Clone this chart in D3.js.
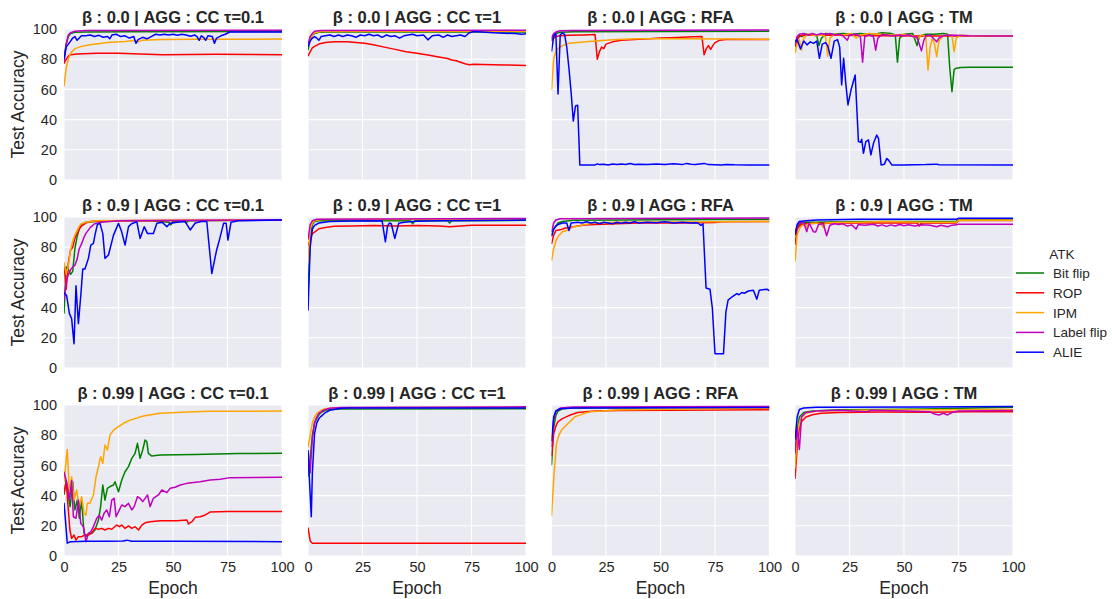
<!DOCTYPE html>
<html lang="en">
<head>
  <meta charset="UTF-8">
  <title>Test accuracy grid</title>
  <script src="https://cdn.jsdelivr.net/npm/d3@7"></script>
  <style>
    body { margin: 0; background: #fff; }
    text { font-family: "Liberation Sans", Arial, sans-serif; fill: #262626; }
  </style>
</head>
<body>
  <div id="chart"></div>

  <script>
    // series order inside each panel: Bit flip, ROP, IPM, Label flip, ALIE
    const attacks = ["Bit flip", "ROP", "IPM", "Label flip", "ALIE"];
    const colors = ["green", "red", "orange", "#bf00bf", "blue"];
    const betas = ["0.0", "0.9", "0.99"];
    const aggs = ["CC τ=0.1", "CC τ=1", "RFA", "TM"];
    const xTicks = [0, 25, 50, 75, 100];
    const yTicks = [0, 20, 40, 60, 80, 100];

    // β = 0.0
    const b00_cc01 = [
      [[0,80],[1,90],[2,95],[3,97],[5,97.8],[10,98],[30,98.2],[100,98.3]],
      [[0,77],[1,80],[2,82],[3,83],[6,83.5],[15,84],[25,84],[35,83.5],[45,83],[70,83.2],[100,83]],
      [[0,62],[1,74],[2,80],[3,84],[5,87],[8,88.5],[12,89.5],[20,91],[28,91.8],[32,92.4],[34,91.5],[36,92.6],[45,93],[60,93.2],[100,93.3]],
      [[0,78],[1,90],[2,96],[3,97.5],[5,98.5],[10,99],[100,99.2]],
      [[0,80],[1,88],[2,90],[3,92],[4,94],[5,95],[6,92.5],[7,94],[8,95.5],[10,95.5],[12,96],[14,95],[16,95.8],[18,94.5],[20,95],[21,93.5],[22,96],[24,96.5],[26,95],[28,95.5],[30,94],[32,95],[33,90.5],[34,93],[36,94.5],[38,93.5],[40,95],[42,96.5],[44,96],[46,96.5],[48,96],[50,96.5],[52,95.8],[54,96.5],[56,96],[58,95.2],[60,96],[61,95],[62,92.5],[63,95.5],[64,94.5],[65,92.5],[66,95.5],[68,95],[69,90.5],[70,94],[72,95.5],[74,96.5],[76,98],[80,98],[100,98]]
    ];
    const b00_cc1 = [
      [[0,86],[1,93],[2,96],[3,97],[5,97.8],[10,98],[100,98]],
      [[0,82],[1,85],[2,87.5],[3,88.5],[5,90],[8,91],[12,91.5],[18,91.5],[22,91],[26,90.5],[30,89.5],[35,88],[40,86.5],[45,85],[50,84],[55,82.8],[60,81.5],[64,80.5],[66,79.5],[68,79],[70,78],[72,77],[74,76.3],[76,76.6],[80,76.5],[90,76.2],[100,75.8]],
      [[0,88],[1,93],[2,96],[3,97.5],[6,98.3],[100,98.5]],
      [[0,90],[1,95],[2,97],[3,98.5],[6,99],[100,99.2]],
      [[0,88],[1,92],[2,94],[3,95],[4,94],[5,92.5],[6,95],[8,95.5],[10,96],[12,95],[14,96],[16,95],[18,96],[20,95.5],[22,94.5],[24,96],[26,95.5],[28,96.5],[30,95.5],[32,96],[34,94.5],[36,96],[38,95],[40,95.5],[42,94],[44,95.5],[46,96],[48,96.5],[50,95.5],[53,96],[55,92.8],[57,95.5],[60,96],[62,94.5],[64,96],[66,95],[68,95.5],[70,96],[72,95],[74,97.5],[76,98.3],[80,98],[85,97.5],[90,97.2],[95,97],[98,96.5],[100,96.8]]
    ];
    const b00_rfa = [
      [[0,93],[1,96],[2,97],[4,97.8],[10,98.2],[100,98.5]],
      [[0,92],[1,94],[2,95],[4,95.5],[8,95.8],[15,96],[20,96.3],[21,80],[22,85],[23,88],[24,87],[25,90],[28,91.5],[32,92.5],[40,93.2],[45,93.5],[50,94],[55,94.2],[60,94.5],[65,94.8],[69,95],[70,83],[71,87],[72,89],[73,86.5],[74,89],[75,91],[77,92.5],[80,93],[100,93]],
      [[0,59.5],[1,80],[2,85],[3,87],[5,89],[8,90.5],[12,91],[16,91.5],[20,92],[30,93],[40,93.5],[60,93.6],[80,93.4],[100,93.2]],
      [[0,94],[1,97],[2,98],[4,98.8],[10,99],[100,99.3]],
      [[0,85],[1,95],[2,97],[3,57],[4,96],[5,97.5],[6,96.5],[7,88],[8,74],[9,58],[10,39],[11,49],[12,49.5],[13,10],[20,10],[21,10.7],[22,10.2],[24,10.4],[26,10],[28,10.6],[30,10.3],[32,10.6],[34,10.2],[36,10.9],[38,10.3],[40,10.5],[44,10.2],[48,10.6],[52,10.3],[56,10.7],[60,10.2],[62,11],[64,10.5],[66,10.3],[70,11],[72,10.2],[78,10],[80,10.3],[84,10.1],[90,10],[100,10]]
    ];
    const b00_tm = [
      [[0,90],[1,94],[2,96],[3,95],[5,96.5],[8,96],[10,95.5],[11,89],[12,93.5],[14,97],[18,96.5],[22,97],[26,96.5],[30,97],[34,96.5],[38,97],[40,97.5],[44,97],[46,96],[47,78],[48,94],[50,96.5],[54,97],[55,93],[56,89],[57,95],[60,96.5],[64,96.5],[68,97],[70,96.5],[71,74],[72,58.5],[73,73.3],[74,74],[76,74.5],[80,74.6],[100,74.6]],
      [[0,88],[1,93],[2,95],[3,95.8],[10,96],[20,95.8],[40,95.5],[60,95.3],[80,95.3],[100,95.2]],
      [[0,84],[1,90],[2,93],[3,86],[4,94],[6,96.5],[8,96],[10,95.5],[12,96],[14,95],[15,82],[16,94],[18,96.5],[22,96],[26,97],[28,94],[30,96],[34,97],[40,96.5],[46,96],[50,96.5],[54,95.5],[56,93.5],[58,96],[60,95],[61,72.8],[62,88],[63,94],[64,90],[65,81.7],[66,92],[68,95.5],[70,96],[72,95.5],[73,85],[74,94],[76,95.8],[80,95.5],[100,95.3]],
      [[0,90],[1,95],[2,96.5],[4,97],[6,96],[8,97],[10,96],[12,97],[14,96.5],[16,97],[18,96],[20,96.5],[22,95.5],[24,92.5],[25,96],[28,96.5],[30,95],[31,78],[32,95],[34,96],[36,95],[37,86],[38,94],[40,96.5],[42,96],[44,95.5],[48,96],[50,95.5],[52,96.2],[54,95],[56,94.5],[58,85.5],[59,92],[60,95.5],[62,96],[64,93],[65,91.5],[66,94],[68,95.5],[70,96],[74,95.8],[80,95.5],[100,95.3]],
      [[0,91.5],[1,93],[2.5,86.8],[4,92],[5.5,89.5],[7,91.5],[8.5,90.5],[10,92],[11.2,80.6],[12.5,90],[14,91],[15,89],[16.5,80.6],[18,92],[19.5,93],[20.5,88],[21.4,63],[22.3,80.6],[23.3,64],[24.3,49.7],[25.7,59.6],[27.6,69.5],[29.1,25.4],[30.1,25],[30.6,27],[31.4,17.7],[32.5,25.4],[33.7,26.5],[34.8,16.6],[36,24.3],[37.5,29.8],[38.3,27.6],[39.5,10],[41,10.5],[42.1,14.3],[43,13],[44.4,10],[50,10],[60,10.2],[65,10.5],[66,10.1],[100,10]]
    ];

    // β = 0.9
    const b09_cc01 = [
      [[0,36],[1,67],[2,65],[3,62],[4,64],[5,79],[6,87],[7,92],[8,95],[10,96.5],[14,97],[20,97.5],[40,97.5],[48,96.5],[49,94.7],[50,97],[55,97.5],[56,96],[57,97.5],[100,98]],
      [[0,69],[1,52],[2,70],[3,78],[4,80],[5,86],[6,89],[7,92],[8,94],[10,96],[12,97],[20,97.5],[100,98]],
      [[0,70],[1,62],[2,68],[3,78],[4,84],[5,88],[6,91],[7,94],[8,95.5],[10,96.5],[15,97.5],[100,98.2]],
      [[0,45],[1,57],[2,62],[3,65],[4,67],[5,68],[6,72],[7,79],[8,82],[9,86],[10,89],[11,91],[12,93],[14,95.5],[17,96.5],[25,97.5],[100,98.2]],
      [[0,50],[1.2,48],[2.5,36],[3.5,32.7],[4.6,16],[5.5,54.4],[6.6,29.4],[7.7,48],[8.6,65.5],[9.6,65.5],[11.2,72.6],[12.3,81.4],[13.5,82.5],[14.2,88],[15.3,95],[16.5,95.8],[17.8,89],[18.8,72.6],[20.4,74.8],[22.7,88],[25,95.8],[26.5,90],[28,81.4],[29.6,93.6],[31,95.5],[33.4,96.9],[34.9,85.8],[36.8,93.6],[38.3,89],[41,89],[42.6,95.8],[45,96.5],[47.2,93.6],[48.7,95.8],[52,96.5],[55.6,97],[57.9,91.4],[60.2,96],[63,97],[65.5,97],[67.8,62.6],[70,78],[71.5,86],[73.2,95.8],[74.4,95.8],[75.2,84.7],[76.6,96.5],[80,97.5],[100,98]]
    ];
    const b09_cc1 = [
      [[0,50],[1,85],[2,95],[3,97],[5,97.5],[47,97.5],[48,95.5],[49,97.5],[64,97.5],[65,96],[66,97.5],[100,97.8]],
      [[0,81],[1,85],[2,89],[3,90],[5,92.2],[8,93],[12,93.8],[20,94],[30,94.3],[40,94],[50,94.3],[60,94],[65,93.6],[70,94],[75,94.5],[100,94.5]],
      [[0,70],[1,92],[2,96],[3,97.5],[6,98.3],[100,98.6]],
      [[0,85],[1,95],[2,97.5],[4,98.5],[100,99]],
      [[0,38],[1,80],[2,92],[3,94.5],[5,96],[10,97],[20,97.3],[34,97.5],[35.5,83.6],[36.5,94],[37.3,96],[38.2,95.5],[39.8,85.8],[41.6,95.8],[44,96.5],[50,97.2],[60,97.5],[100,98]]
    ];
    const b09_rfa = [
      [[0,88],[1,92],[2,94],[3,96],[5,97],[10,97.8],[30,98],[100,98.5]],
      [[0,82],[1,88],[2,91],[4,91.5],[6,92.5],[8,93],[12,94],[15,94.7],[20,95],[30,95.5],[40,96],[60,96],[75,96.3],[78,96.8],[100,97]],
      [[0,71],[1,79],[2,84],[3,87],[5,90.3],[7,91],[10,93.5],[12,93.8],[15,95],[20,96],[30,96.5],[100,97]],
      [[0,90],[1,96],[2,98],[4,98.8],[100,99.3]],
      [[0,87],[1,92],[2,94],[3,95],[5,96],[7,96],[8,91],[9,96],[12,96.5],[14,96],[16,96.8],[18,96],[20,96.5],[22,95.5],[24,96.5],[26,96],[28,95.5],[30,96.5],[32,95.8],[34,96.5],[36,96],[38,96.8],[40,96],[44,96.5],[48,96.2],[52,96.8],[56,96],[60,96.5],[64,96],[67,96.2],[68.5,94.5],[69.5,95.5],[70.9,53],[72.7,52.2],[73.8,39.4],[75,9.5],[78.9,9.5],[80,37],[81,45],[82.7,47],[85,49.3],[86,48.5],[87.3,50],[88.5,49.5],[90.3,51],[92.6,51.5],[94.2,45.6],[95.3,51.5],[98.8,52.2],[100,51]]
    ];
    const b09_tm = [
      [[0,88],[1,93],[2,95],[3,96],[5,96.5],[10,96.5],[20,96.8],[40,97],[60,97],[74,97.2],[75,98],[100,98]],
      [[0,81.4],[1,92],[2,94],[3,95],[5,95.5],[10,95.8],[20,96],[40,96],[56,96],[57,94],[58,96],[74,96],[75,97.6],[100,97.6]],
      [[0,70.4],[1,88],[2,92],[3,94],[4,95],[5,93],[6,95.5],[10,96],[12,95],[13,93],[14,96],[20,96.5],[30,96.5],[40,97],[60,96.5],[74,96.5],[75,97.8],[100,97.8]],
      [[0,90],[1,94],[2,96],[4,96.5],[5.4,90.3],[6.5,96],[8.4,90.3],[9.5,90],[10.8,95],[13,95.5],[14.5,87.6],[16,94.5],[18,95.5],[20,95],[22,95.5],[24,94],[26,94.8],[28,92],[29,95],[32,94.5],[36,95.2],[38,94],[40,94.8],[42,93.8],[44,94.8],[46,94],[48,95],[50,94.2],[52,94.8],[55,94],[58,94.8],[62,94.5],[65,93.5],[67,94.5],[70,93.5],[72,94.6],[74,94.8],[75,95.2],[100,95.2]],
      [[0,88],[1,95],[2,97],[5,97.5],[10,98],[30,98.5],[74,98.5],[75,99.1],[100,99.1]]
    ];

    // β = 0.99
    const b099_cc01 = [
      [[0,40.4],[1,50],[2.8,32.7],[4,49.2],[5,30.5],[6.1,37],[7,25],[8.1,37],[9.2,15],[10.1,12.8],[11.2,15],[12.7,15],[14.2,17.2],[15.8,23.8],[16.8,32.7],[17.8,47],[18.8,37],[19.9,44.8],[21.1,46],[22.7,47],[23.4,49.2],[25,42.6],[26.5,50.3],[28,55.8],[29.6,59.2],[31.1,64.7],[32.6,68],[33.7,74.6],[34.9,64.7],[36.1,70.2],[37.2,76.8],[38,75.7],[38.7,68],[40.3,66.2],[44,66.9],[60,67.3],[80,67.8],[100,68]],
      [[0,41.5],[1,49.2],[2.7,17.2],[3.5,11.7],[4.6,13.9],[5.5,10.6],[6.6,12.8],[8.1,12.8],[9.6,13.9],[11.2,13.9],[12.7,15],[14.2,18.3],[15.8,17.7],[17.3,18.3],[18.8,17.2],[20.4,18.3],[21.9,17.7],[24.2,20.5],[25.4,19.4],[26.5,20.5],[28,18.3],[29.6,19.9],[31.1,18.3],[32.6,19.4],[34.2,17.2],[35.7,20.5],[37.2,22],[39.5,22.7],[44,23.4],[51.8,23.4],[56.4,23.8],[57.1,21.2],[58.7,22.7],[60.2,25.6],[62.5,26],[64.8,27.2],[67,29.1],[75,29.4],[100,29.4]],
      [[0,49],[1.5,70.6],[2.5,41.5],[3.5,52.5],[4.6,37],[5.8,43.7],[7,32.7],[8.1,39.3],[9.2,28.3],[10.1,27],[10.7,34.9],[11.9,34.9],[13.5,40.4],[14.7,52.5],[15.8,59],[16.8,65.8],[17.8,61.4],[18.8,73.5],[19.9,70.2],[21.1,80],[22.7,83.4],[25,85.7],[27.3,87.9],[30.3,90],[36.4,92.7],[44.1,94.5],[51.8,95.1],[59.4,95.6],[67,95.8],[100,96]],
      [[0,55.8],[1.5,47],[2.5,37],[3.5,50],[4.3,26],[5.5,25],[6.6,37],[7.7,21.6],[8.9,19.4],[10.1,9.5],[11.2,15],[12.3,16],[13.5,19.4],[15,25],[16.2,27],[17.3,23.8],[18.4,28.3],[19.6,30.5],[20.8,26],[21.9,37],[23,38.2],[23.9,26],[25.4,30.5],[26.5,33.8],[28,32.7],[29.6,34.9],[31.1,30.5],[32.2,32.7],[33.7,39.3],[34.9,38.2],[36.1,36],[37.2,38.2],[38.3,40.4],[39.5,32.7],[41,38.2],[43.3,40.4],[44.9,43.7],[47.2,42],[48.7,44.8],[51,45.5],[53.3,47],[56.4,48.1],[59.4,48.6],[62.5,49.2],[67,50.3],[71.7,50.8],[76.2,51.9],[100,52.1]],
      [[0,35.3],[1.5,8.5],[3,9.5],[10,9.8],[20,9.7],[27,9.9],[29,10.5],[31,9.8],[50,9.7],[100,9.5]]
    ];
    const b099_cc1 = [
      [[0,52.5],[1,65],[2,80],[3,88],[4,91],[5,93.5],[6,95],[8,96.5],[10,97],[15,97.3],[100,97.5]],
      [[0,18.8],[1,10],[2,8.5],[100,8.5]],
      [[0,72],[1,80],[2,88],[3,92],[4,94.5],[6,96.5],[8,97.5],[12,98.2],[100,98.5]],
      [[0,70],[1,55],[2,78],[3,88],[4,92],[5,94.5],[7,96.5],[10,97.8],[15,98.3],[100,98.8]],
      [[0,70],[1.5,26],[2,55],[3,81],[4,88],[5,91],[6,92.5],[8,95],[10,96.5],[15,97.8],[20,98],[100,98]]
    ];
    const b099_rfa = [
      [[0,60],[1,85],[2,93],[3,96],[5,97.5],[10,98],[100,98.3]],
      [[0,66],[1,81],[2,86],[3,89],[5,91],[8,93],[12,95],[20,96],[30,96.3],[100,96.8]],
      [[0,26.5],[1.2,54.7],[2.3,74.6],[3.4,80],[4.6,83.4],[6.1,85.7],[7.7,87.9],[9.2,90],[10.7,92.2],[13,93.3],[16,94.9],[18,95.6],[23,96],[29,96.7],[44,97.1],[100,97.8]],
      [[0,72],[1,90],[2,96],[4,98],[10,98.6],[100,99]],
      [[0,76],[1,92],[2,96],[4,97.5],[10,98],[100,98.3]]
    ];
    const b099_tm = [
      [[0,63.5],[1,84],[2,92],[4,95],[8,96],[20,96.8],[40,97],[60,97.3],[75,97.8],[100,98.5]],
      [[0,51],[1,72],[2,85],[3,89],[5,92],[8,93.5],[12,94.5],[20,95],[40,95.3],[60,95.2],[80,95.5],[100,95.6]],
      [[0,58],[1,80],[2,88],[3,92],[5,94.5],[10,96],[30,96.5],[60,96.8],[100,97]],
      [[0,68],[1,85],[2,70.6],[3,92],[5,95],[10,96],[20,96.5],[33,95.5],[35,96.5],[50,96],[62,95.5],[64,94],[66,93.4],[68,94.5],[70,93.4],[72,95],[75,96],[100,96.3]],
      [[0,77],[1,92],[2,97],[4,98],[10,98.5],[60,98.7],[100,99]]
    ];

    const grid = [
      [b00_cc01, b00_cc1, b00_rfa, b00_tm],
      [b09_cc01, b09_cc1, b09_rfa, b09_tm],
      [b099_cc01, b099_cc1, b099_rfa, b099_tm]
    ];

    const width = 1112, height = 599;
    const colX = [64, 308, 551.5, 795];
    const rowY = [29, 217, 405];
    const pw = 218, ph = 151;

    const svg = d3.select('#chart')
      .append('svg')
        .attr('width', width)
        .attr('height', height);

    const x = d3.scaleLinear().domain([0, 100]).range([0, pw]);
    const y = d3.scaleLinear().domain([0, 100]).range([ph, 0]);

    const line = d3.line()
      .x(d => x(d[0]))
      .y(d => y(d[1]));

    grid.forEach((row, r) => {
      row.forEach((panel, c) => {
        const g = svg.append('g')
          .attr('transform', `translate(${colX[c]},${rowY[r]})`);

        g.append('rect')
          .attr('width', pw)
          .attr('height', ph)
          .attr('fill', '#eaeaf2');

        // white grid
        g.selectAll('.gx')
          .data(xTicks)
          .join('line')
            .attr('x1', d => x(d)).attr('x2', d => x(d))
            .attr('y1', 0).attr('y2', ph)
            .attr('stroke', '#fff').attr('stroke-width', 1.1);
        g.selectAll('.gy')
          .data(yTicks)
          .join('line')
            .attr('class', 'gy')
            .attr('x1', 0).attr('x2', pw)
            .attr('y1', d => y(d)).attr('y2', d => y(d))
            .attr('stroke', '#fff').attr('stroke-width', 1.1);

        const clipId = `clip-${r}-${c}`;
        g.append('clipPath').attr('id', clipId)
          .append('rect').attr('width', pw).attr('height', ph);

        g.append('g')
          .attr('clip-path', `url(#${clipId})`)
          .selectAll('path')
          .data(panel)
          .join('path')
            .attr('d', line)
            .attr('fill', 'none')
            .attr('stroke', (d, i) => colors[i])
            .attr('stroke-width', 1.5)
            .attr('stroke-linejoin', 'round');

        g.append('text')
          .attr('x', pw / 2)
          .attr('y', -6)
          .attr('text-anchor', 'middle')
          .style('font-size', '16.5px')
          .style('font-weight', 'bold')
          .text(`β : ${betas[r]} | AGG : ${aggs[c]}`);

        if (c === 0) {
          const ya = g.append('g')
            .call(d3.axisLeft(y).tickValues(yTicks).tickSize(0).tickPadding(7));
          ya.select('.domain').remove();
          ya.selectAll('text')
            .style('font-size', '14.5px')
            .style('font-family', '"Liberation Sans", Arial, sans-serif')
            .attr('fill', '#262626');

          g.append('text')
            .attr('transform', `translate(${24 - colX[0]},${ph / 2}) rotate(-90)`)
            .attr('text-anchor', 'middle')
            .style('font-size', '17.5px')
            .text('Test Accuracy');
        }

        if (r === 2) {
          const xa = g.append('g')
            .attr('transform', `translate(0,${ph})`)
            .call(d3.axisBottom(x).tickValues(xTicks).tickSize(0).tickPadding(6));
          xa.select('.domain').remove();
          xa.selectAll('text')
            .style('font-size', '14.5px')
            .style('font-family', '"Liberation Sans", Arial, sans-serif')
            .attr('fill', '#262626');

          g.append('text')
            .attr('x', pw / 2)
            .attr('y', ph + 38)
            .attr('text-anchor', 'middle')
            .style('font-size', '17.5px')
            .text('Epoch');
        }
      });
    });

    // legend
    const legend = svg.append('g').attr('transform', 'translate(1016,0)');
    legend.append('text')
      .attr('x', 46)
      .attr('y', 259)
      .attr('text-anchor', 'middle')
      .style('font-size', '13.5px')
      .text('ATK');
    const items = legend.selectAll('.item')
      .data(attacks)
      .join('g')
        .attr('transform', (d, i) => `translate(0,${273 + i * 19.8})`);
    items.append('line')
      .attr('x1', 0).attr('x2', 28)
      .attr('stroke', (d, i) => colors[i])
      .attr('stroke-width', 1.5);
    items.append('text')
      .attr('x', 37)
      .attr('y', 5)
      .style('font-size', '13.5px')
      .text(d => d);
  </script>
</body>
</html>
